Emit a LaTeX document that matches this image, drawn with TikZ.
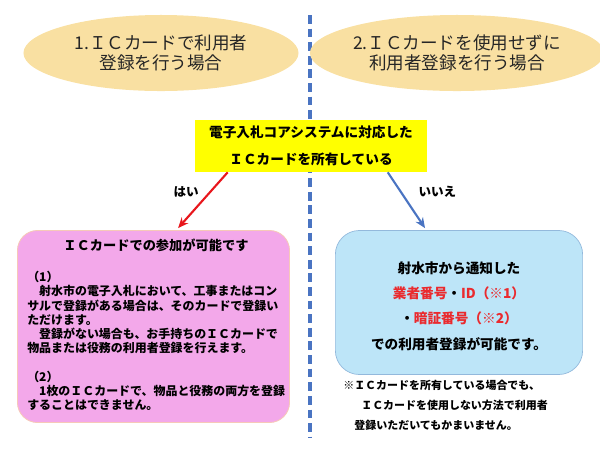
\documentclass[tikz,border=0pt]{standalone}
\usepackage{fontspec}
\setmainfont{Noto Sans CJK JP}
\usetikzlibrary{shapes.geometric,calc,arrows.meta}

\definecolor{ovalfill}{HTML}{F9E0A2}
\definecolor{askyellow}{HTML}{FFFF00}
\definecolor{pinkfill}{HTML}{F3A8EA}
\definecolor{pinkline}{HTML}{F6C9B8}
\definecolor{bluefill}{HTML}{BDE5F8}
\definecolor{blueline}{HTML}{93B9DC}
\definecolor{yesred}{HTML}{E8161C}
\definecolor{noblue}{HTML}{4A74C2}
\definecolor{txtred}{HTML}{EA2A2E}

\begin{document}
\begin{tikzpicture}[x=0.025cm,y=-0.025cm,
			oval/.style={ellipse,fill=ovalfill,minimum width=6.875cm,minimum height=1.9cm,inner sep=0,align=center,text=black!85,font=\fontsize{12.5}{14.2}\selectfont},
			question/.style={fill=askyellow,minimum width=5.8cm,minimum height=1.3cm,inner sep=0,align=center,font=\bfseries\fontsize{9.7}{19}\selectfont},
			pinkcard/.style={rounded corners=0.5cm,draw=pinkline,fill=pinkfill,line width=0.6pt,minimum width=6.8cm,minimum height=4.8cm},
			bluecard/.style={rounded corners=0.6cm,draw=blueline,fill=bluefill,line width=0.5pt,minimum width=6.18cm,minimum height=3.6cm},
			divider/.style={draw=noblue,line width=2.2pt,dash pattern=on 0.22cm off 0.12cm},
			answer/.style={line width=1.5pt,-{Stealth[length=0.26cm,width=0.22cm]}},
			label/.style={font=\bfseries\fontsize{8.9}{10}\selectfont}
		]
		\useasboundingbox (0,0) rectangle (600,450);
		\coordinate (divtop) at (310,15);
		\coordinate (divbot) at (310,437);
		\draw[divider] (divtop) -- (divbot);
		\node[oval] (case1) at (161,53) {1.ＩＣカードで利用者\\登録を行う場合};
		\node[oval] (case2) at (457,53) {2.ＩＣカードを使用せずに\\利用者登録を行う場合};
		\node[question] (ask) at (311,146) {電子入札コアシステムに対応した\\ＩＣカードを所有している};
		\node[pinkcard] (yesbox) at (153.5,326.5) {};
		\node[bluecard] (nobox) at (459,302.5) {};
		\node[font=\bfseries\fontsize{9.4}{11}\selectfont] (yestitle) at (156,245) {ＩＣカードでの参加が可能です};
		\node[anchor=north west,inner sep=0,align=left,font=\bfseries\fontsize{8.5}{10.1}\selectfont] (yestext) at (27,271) {（1）\\　射水市の電子入札において、工事またはコン\\サルで登録がある場合は、そのカードで登録い\\ただけます。\\　登録がない場合も、お手持ちのＩＣカードで\\物品または役務の利用者登録を行えます。\\[10.1pt]（2）\\　1枚のＩＣカードで、物品と役務の両方を登録\\することはできません。};
		\node[align=center,font=\bfseries\fontsize{9.7}{18}\selectfont] (notext) at (459,306) {射水市から通知した\\\textcolor{txtred}{業者番号}・\textcolor{txtred}{ID（※1）}\\・\textcolor{txtred}{暗証番号（※2）}\\での利用者登録が可能です。};
		\node[anchor=west,inner sep=0,align=left,font=\bfseries\fontsize{7.8}{14.2}\selectfont] (note) at (343,405) {※ＩＣカードを所有している場合でも、\\\hspace*{0.45cm}ＩＣカードを使用しない方法で利用者\\\hspace*{0.28cm}登録いただいてもかまいません。};
		\draw[answer,yesred] ([xshift=0.825cm]ask.south west) -- ([xshift=4.025cm,yshift=0.05cm]yesbox.north west) node[label,pos=0.35,left=1.5mm,text=black] {はい};
		\draw[answer,noblue] ([xshift=4.825cm]ask.south west) -- ([xshift=2.25cm,yshift=0.05cm]nobox.north west) node[label,pos=0.35,right=3mm,text=black] {いいえ};
	\end{tikzpicture}
\end{document}
